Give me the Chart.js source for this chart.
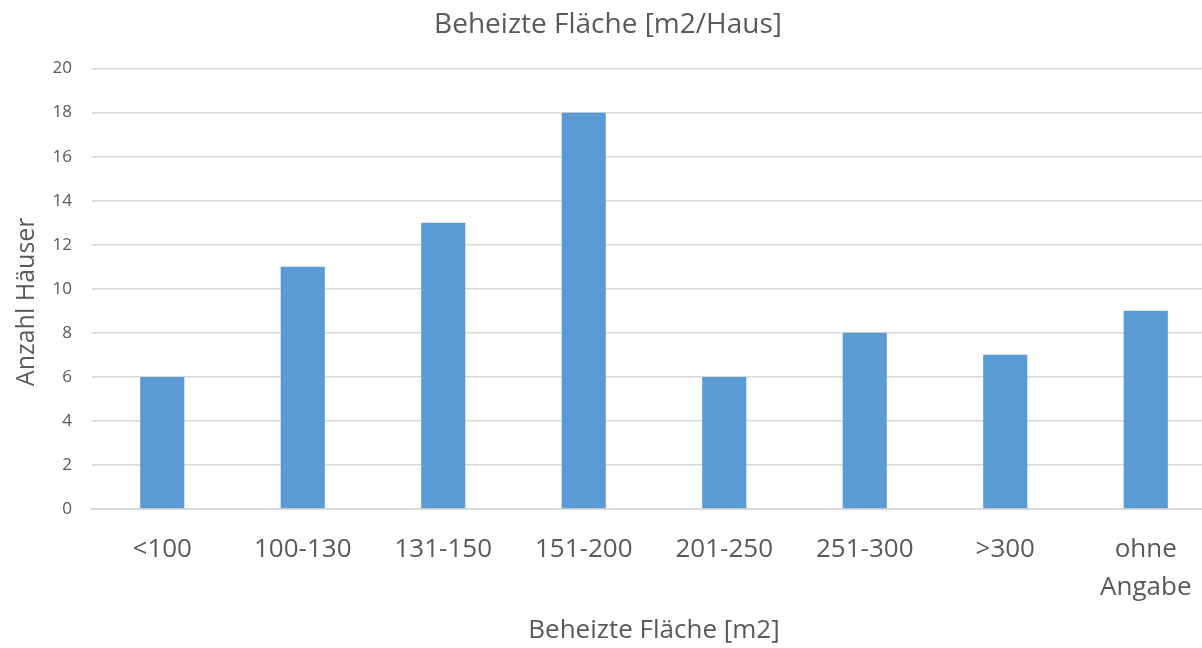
<!DOCTYPE html>
<html>
<head>
<meta charset="utf-8">
<script src="https://cdn.jsdelivr.net/npm/chart.js@4/dist/chart.umd.min.js"></script>
<style>
  html, body { margin: 0; padding: 0; background: #fff; overflow: hidden; }
  #wrap { width: 1216px; height: 648px; }
</style>
</head>
<body>
<div id="wrap"><canvas id="myChart" width="1216" height="648"></canvas></div>
<script>
var categories = ["<100", "100-130", "131-150", "151-200", "201-250", "251-300", ">300", ["ohne", "Angabe"]];
var houses = [6, 11, 13, 18, 6, 8, 7, 9];
var yTicks = [0, 2, 4, 6, 8, 10, 12, 14, 16, 18, 20];

var textColor = '#595959';
var font = "'Open Sans', 'Liberation Sans', sans-serif";

window.onload = function() {
    var ctx = document.getElementById("myChart").getContext('2d');
    window.myChart = new Chart(ctx, {
        type: 'bar',
        data: {
            labels: categories,
            datasets: [{
                label: 'Anzahl Häuser',
                data: houses,
                backgroundColor: '#5B9BD5',
                borderWidth: 0,
                barPercentage: 0.314,
                categoryPercentage: 1
            }]
        },
        options: {
            responsive: false,
            animation: false,
            layout: { padding: 0 },
            plugins: {
                legend: { display: false },
                tooltip: { enabled: false },
                title: {
                    display: true,
                    text: 'Beheizte Fläche [m2/Haus]',
                    color: textColor,
                    font: { family: font, size: 28, weight: 'normal', lineHeight: 1.2 },
                    padding: { top: 8, bottom: 27 }
                }
            },
            scales: {
                x: {
                    grid: { display: false, drawTicks: false },
                    border: { color: '#D9D9D9', width: 2 },
                    ticks: {
                        color: textColor,
                        font: { family: font, size: 26, lineHeight: 1.45 },
                        padding: 22,
                        maxRotation: 0,
                        autoSkip: false
                    },
                    title: {
                        display: true,
                        text: 'Beheizte Fläche [m2]',
                        color: textColor,
                        font: { family: font, size: 26, lineHeight: 1.2 },
                        padding: { top: 0, bottom: 2 }
                    },
                    afterFit: function(s) { s.height = 139; }
                },
                y: {
                    min: 0,
                    max: 20,
                    afterBuildTicks: function(s) {
                        s.ticks = yTicks.map(function(v) { return { value: v }; });
                    },
                    grid: { color: '#D9D9D9', lineWidth: 1.5, drawTicks: false },
                    border: { display: false },
                    ticks: {
                        color: textColor,
                        font: { family: font, size: 17 },
                        padding: 20
                    },
                    title: {
                        display: true,
                        // trailing spaces nudge the title down a bit, like in Excel
                        text: 'Anzahl Häuser    ',
                        color: textColor,
                        font: { family: font, size: 25 },
                        padding: { top: 12, bottom: 0 }
                    },
                    afterFit: function(s) { s.width = 92; }
                }
            }
        }
    });
};
</script>
</body>
</html>
